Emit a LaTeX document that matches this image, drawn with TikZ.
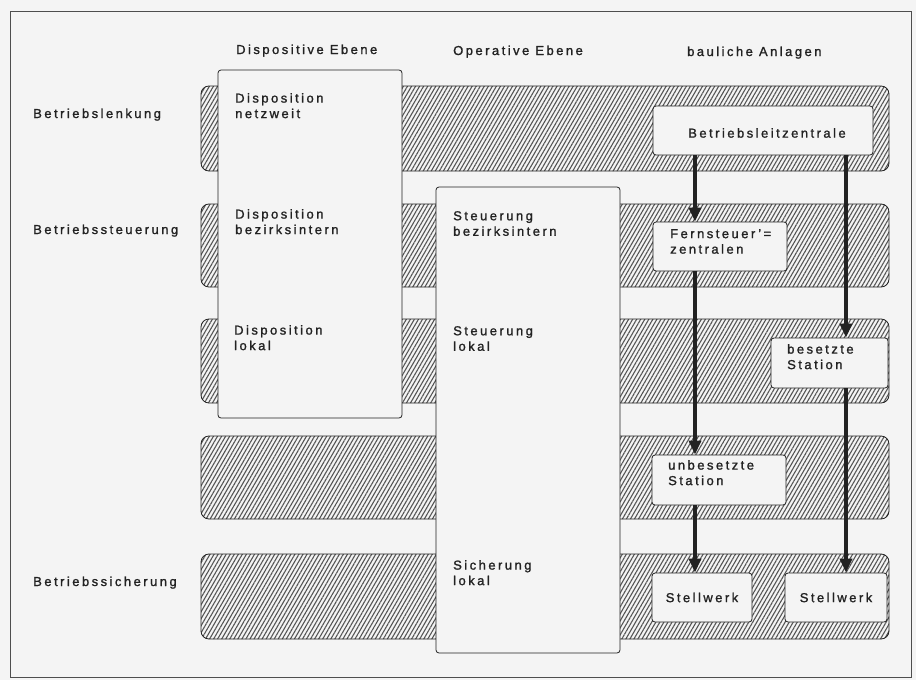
\documentclass[tikz,border=0pt]{standalone}
\usepackage{fontspec}
\setmainfont{Liberation Sans}[LetterSpace=19,FakeBold=1.3]
\usetikzlibrary{patterns.meta,arrows.meta,calc}
\definecolor{paper}{HTML}{F4F4F4}
\definecolor{ink}{HTML}{222222}
\definecolor{hatch}{HTML}{555555}
\begin{document}
\begin{tikzpicture}[x=1pt,y=-1pt,
  every node/.style={font=\fontsize{13}{15.5}\selectfont, text=ink},
  band/.style={draw=ink, line width=0.8pt, rounded corners=8pt,
    pattern={Lines[angle=60,distance=3.5pt,line width=1.1pt]}, pattern color=hatch},
  column/.style={draw=ink, line width=0.8pt, fill=paper, rounded corners=3pt},
  unit/.style={draw=ink, line width=0.8pt, fill=paper, rounded corners=3pt, inner sep=0pt},
  txt/.style={anchor=north west, inner sep=0pt, align=left},
  lbl/.style={anchor=base west, inner sep=0pt},
  arr/.style={draw=ink, line width=3.4pt, -{Triangle[length=14pt,width=12pt]}}
]
\useasboundingbox (0,0) rectangle (916,680);
\fill[paper] (0,0) rectangle (916,680);
\draw[ink!80, line width=0.9pt] (10,11) rectangle (911,677);

% headers
\node[lbl] (h1) at (236,54) {Dispositive Ebene};
\node[lbl] (h2) at (453,55) {Operative Ebene};
\node[lbl] (h3) at (687,56) {bauliche Anlagen};

% row labels
\node[lbl] (r1) at (33,118) {Betriebslenkung};
\node[lbl] (r2) at (33,234) {Betriebssteuerung};
\node[lbl] (r3) at (33,586) {Betriebssicherung};

% bands
\draw[band] (201,86) rectangle (889,171);
\draw[band] (201,204) rectangle (889,287);
\draw[band] (201,319) rectangle (889,403);
\draw[band] (201,436) rectangle (889,519);
\draw[band] (201,554) rectangle (889,639);

% columns
\draw[column] (218,70) rectangle (402,418);
\draw[column] (436,187) rectangle (620,653);

\node[txt] (d1) at (235,93) {Disposition\\netzweit};
\node[txt] (d2) at (235,209) {Disposition\\bezirksintern};
\node[txt] (d3) at (234,325) {Disposition\\lokal};
\node[txt] (o1) at (453,211) {Steuerung\\bezirksintern};
\node[txt] (o2) at (453,326) {Steuerung\\lokal};
\node[txt] (o3) at (453,560) {Sicherung\\lokal};

% installation boxes
\node[unit, minimum width=220pt, minimum height=49pt] (leit) at (763,130.5) {};
\node (leitT) at (767,133) {Betriebsleitzentrale};
\node[unit, minimum width=134pt, minimum height=49pt] (fern) at (720,246.5) {};
\node[txt] (fernT) at (670,229) {Fernsteuer'=\\zentralen};
\node[unit, minimum width=117pt, minimum height=50pt] (bes) at (829.5,363) {};
\node[txt] (besT) at (787,344) {besetzte\\Station};
\node[unit, minimum width=134pt, minimum height=50pt] (unb) at (719,480) {};
\node[txt] (unbT) at (668,460) {unbesetzte\\Station};
\node[unit, minimum width=100pt, minimum height=49pt] (sw1) at (702,597.5) {Stellwerk};
\node[unit, minimum width=102pt, minimum height=49pt] (sw2) at (836,597.5) {Stellwerk};

% arrows
\coordinate (xl) at (695,0);
\coordinate (xr) at (846,0);
\draw[arr] (leit.south -| xl) -- (fern.north -| xl);
\draw[arr] (fern.south -| xl) -- (unb.north -| xl);
\draw[arr] (unb.south -| xl) -- (sw1.north -| xl);
\draw[arr] (leit.south -| xr) -- (bes.north -| xr);
\draw[arr] (bes.south -| xr) -- (sw2.north -| xr);
\end{tikzpicture}
\end{document}
